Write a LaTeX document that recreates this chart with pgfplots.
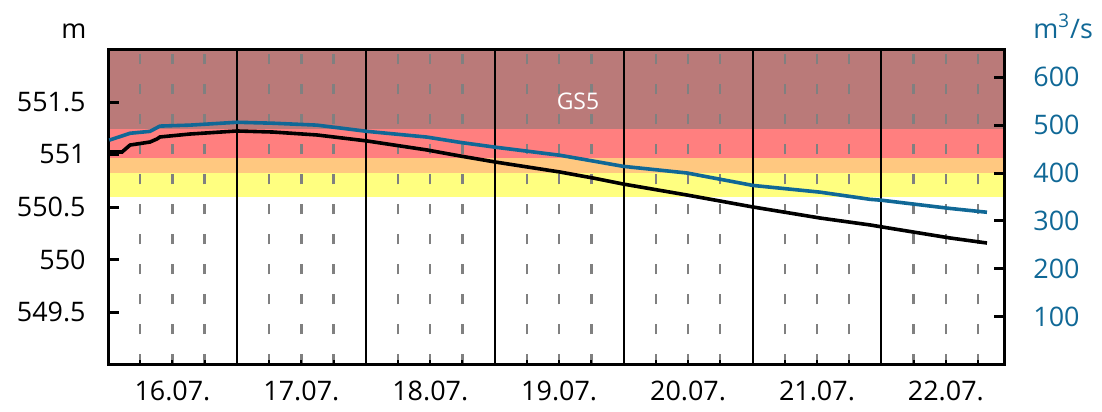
\documentclass[border=0pt]{standalone}
\usepackage{pgfplots}
\pgfplotsset{compat=1.18}
\usepackage{fontspec}
\setmainfont{Open Sans}
\definecolor{qblue}{RGB}{16,104,150}
\definecolor{gsdark}{RGB}{186,122,121}
\definecolor{gsred}{RGB}{255,127,127}
\definecolor{gsorange}{RGB}{255,200,128}
\definecolor{gsyellow}{RGB}{255,255,128}
\definecolor{gridgray}{RGB}{128,128,128}
\newcommand{\lbl}{\fontsize{13.5}{16}\selectfont}
\begin{document}
\begin{tikzpicture}
\pgfplotsset{set layers}
\begin{axis}[name=ax, scale only axis, width=448bp, height=157.5bp,
  xmin=0, xmax=6.951, ymin=549, ymax=552,
  axis line style={line width=1.5bp},
  tick align=inside, ytick pos=left, xtick pos=bottom,
  ytick={549.5,550,550.5,551,551.5},
  yticklabel style={font=\lbl, inner sep=0pt},
  yticklabel shift=11bp,
  ytick style={line width=1.5bp, black}, major tick length=5.5bp,
  /pgf/number format/assume math mode=true,
  /pgf/number format/1000 sep={},
  xtick={1,2,3,4,5,6}, xticklabels={},
  xmajorgrids, major grid style={black, line width=1bp},
  minor xtick={0.25,0.5,0.75,1.25,1.5,1.75,2.25,2.5,2.75,3.25,3.5,3.75,4.25,4.5,4.75,5.25,5.5,5.75,6.25,6.5,6.75},
  xminorgrids, minor grid style={gridgray, line width=1.2bp, dash pattern=on 5bp off 10bp},
  minor tick length=2.5bp, xtick style={black, line width=1bp},
  minor tick style={gridgray},
  extra x ticks={0.5,1.5,2.5,3.5,4.5,5.5,6.5},
  extra x tick labels={16.07.,17.07.,18.07.,19.07.,20.07.,21.07.,22.07.},
  extra x tick style={grid=none, major tick length=0pt},
  xticklabel style={font=\lbl, inner sep=0pt},
  xticklabel shift=8bp,
]
\addplot[on layer=axis background, fill=gsdark, draw=none] coordinates {(0,551.24) (6.951,551.24) (6.951,552) (0,552)};
\addplot[on layer=axis background, fill=gsred, draw=none] coordinates {(0,550.966) (6.951,550.966) (6.951,551.24) (0,551.24)};
\addplot[on layer=axis background, fill=gsorange, draw=none] coordinates {(0,550.828) (6.951,550.828) (6.951,550.966) (0,550.966)};
\addplot[on layer=axis background, fill=gsyellow, draw=none] coordinates {(0,550.595) (6.951,550.595) (6.951,550.828) (0,550.828)};
\node[white, font=\fontsize{11.5}{13}\selectfont] at (axis cs:3.646,551.51) {GS5};
\addplot[black, line width=1.8bp] coordinates {
(0.010,551.024) (0.109,551.024) (0.171,551.090) (0.326,551.119) (0.380,551.148)
(0.403,551.167) (0.636,551.195) (1.001,551.224) (1.280,551.214) (1.621,551.186)
(2.009,551.129) (2.475,551.043) (2.731,550.986) (3.002,550.929) (3.507,550.833)
(3.763,550.776) (3.995,550.719) (4.492,550.614) (5.004,550.500) (5.524,550.395)
(5.912,550.329) (6.005,550.310) (6.532,550.205) (6.819,550.157)};
\end{axis}
\begin{axis}[scale only axis, width=448bp, height=157.5bp,
  xmin=0, xmax=6.951, ymin=0, ymax=658,
  axis x line=none, axis y line*=right,
  axis line style={line width=1.5bp},
  tick align=inside,
  ytick={100,200,300,400,500,600},
  ytick style={line width=1.5bp, black}, major tick length=5bp,
  yticklabel style={font=\lbl, inner sep=0pt, text=qblue},
  yticklabel shift=14.5bp,
  /pgf/number format/assume math mode=true,
]
\addplot[qblue, line width=1.8bp] coordinates {
(0.010,468.6) (0.171,483) (0.326,487) (0.403,498) (0.636,500) (1.001,506)
(1.280,504) (1.621,500) (2.009,487) (2.475,475) (2.731,464) (3.002,454)
(3.507,437) (3.763,425) (3.995,414) (4.492,400) (5.004,374) (5.524,360)
(5.912,345) (6.005,343) (6.532,326) (6.819,318)};
\end{axis}
\node[anchor=base, font=\lbl] at ([xshift=-17bp,yshift=5.75bp]ax.north west) {m};
\node[anchor=base west, font=\lbl, text=qblue, inner sep=0pt] at ([xshift=14.5bp,yshift=5.75bp]ax.north east) {m\textsuperscript{3}/s};
\pgfresetboundingbox
\path[use as bounding box] ([xshift=-54bp,yshift=-23.75bp]ax.south west) rectangle ([xshift=49bp,yshift=24.75bp]ax.north east);
\end{tikzpicture}
\end{document}
